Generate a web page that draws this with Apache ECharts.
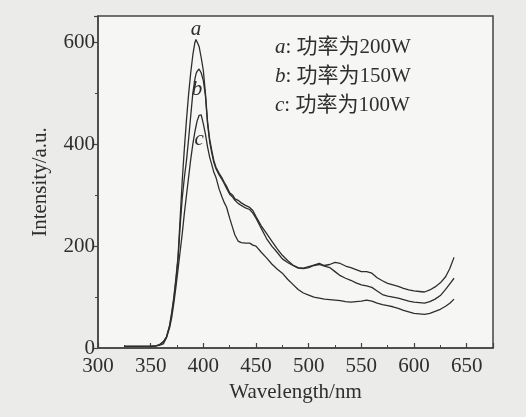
<!DOCTYPE html>
<html>
<head>
<meta charset="utf-8">
<script src="https://cdn.jsdelivr.net/npm/echarts@6/dist/echarts.min.js"></script>
<style>
  html, body { margin: 0; padding: 0; background: #ebebe9; }
  #chart { width: 526px; height: 417px; }
</style>
</head>
<body>
<div id="chart"></div>
<script>
// 波长 (nm)
var wavelength = [325, 330, 340, 350, 355, 358, 362, 365, 368, 370, 372, 374, 376, 378, 380, 382, 384, 386, 388, 390,
  392, 393, 394, 396, 398, 400, 402, 404, 406, 408, 410, 412, 415, 418, 420, 422, 425, 428, 430, 433,
  436, 440, 444, 447, 450, 455, 460, 465, 470, 475, 480, 485, 490, 495, 500, 505, 510, 515, 520, 525,
  530, 535, 540, 545, 550, 555, 560, 565, 570, 575, 580, 585, 590, 595, 600, 605, 610, 615, 620, 625,
  630, 634, 638];
// a: 200W
var seriesA = [3, 3, 3, 3, 4, 6, 12, 22, 45, 70, 100, 138, 180, 255, 330, 392, 448, 498, 540, 575,
  600, 606, 603, 592, 570, 545, 500, 445, 410, 388, 368, 355, 343, 333, 325, 318, 305, 300, 293, 290,
  285, 280, 276, 270, 258, 240, 225, 210, 195, 182, 172, 163, 158, 157, 160, 163, 166, 162, 164, 168,
  166, 161, 158, 154, 150, 150, 147, 138, 132, 127, 124, 121, 117, 114, 112, 111, 110, 114, 120, 128,
  140, 156, 178];
// b: 150W
var seriesB = [3, 3, 3, 3, 4, 6, 12, 21, 43, 67, 96, 132, 175, 240, 295, 335, 368, 410, 455, 500,
  528, 538, 543, 548, 540, 525, 495, 440, 405, 383, 364, 352, 340, 330, 322, 314, 302, 296, 290, 284,
  280, 275, 272, 265, 255, 235, 215, 200, 188, 175, 168, 162, 157, 156, 158, 162, 164, 161, 158, 150,
  142, 137, 133, 128, 124, 122, 119, 112, 105, 102, 100, 98, 95, 92, 90, 89, 88, 91, 96, 103,
  115, 126, 137];
// c: 100W
var seriesC = [3, 3, 3, 3, 4, 5, 8, 20, 40, 60, 88, 120, 155, 190, 225, 265, 300, 335, 370, 400,
  425, 435, 445, 457, 458, 440, 420, 395, 375, 360, 345, 335, 312, 295, 285, 277, 255, 235, 222, 210,
  207, 206, 206, 202, 200, 188, 177, 165, 155, 147, 135, 125, 115, 108, 104, 100, 98, 96, 95, 94,
  93, 91, 90, 91, 92, 94, 92, 88, 85, 83, 81, 78, 74, 71, 68, 67, 66, 68, 72, 76,
  82, 88, 96];
var names = ['a', 'b', 'c'];
var legendText = ['功率为200W', '功率为150W', '功率为100W'];
// 曲线标注位置 (数据坐标)
var tagPos = [[393, 625], [394, 507], [396, 409]];

var font = 'Liberation Serif, Noto Sans CJK SC, serif';
var ink = '#2e2e2e';

function pairs(ys) {
  return wavelength.map(function (x, i) { return [x, ys[i]]; });
}

var chart = echarts.init(document.getElementById('chart'));
var allData = [seriesA, seriesB, seriesC];
var series = allData.map(function (ys, i) {
  return {
    name: names[i],
    type: 'line',
    data: pairs(ys),
    showSymbol: false,
    silent: true,
    lineStyle: { color: ink, width: 1.3 },
    markPoint: {
      symbol: 'rect',
      symbolSize: 1,
      silent: true,
      itemStyle: { color: 'rgba(0,0,0,0)' },
      data: [{ coord: tagPos[i] }],
      label: {
        show: true,
        position: 'inside',
        formatter: names[i],
        fontFamily: font,
        fontStyle: 'italic',
        fontSize: 21,
        color: ink
      }
    }
  };
});

var option = {
  animation: false,
  backgroundColor: '#ebebe9',
  grid: {
    left: 98, right: 33, top: 16, bottom: 69,
    show: true,
    backgroundColor: '#f6f6f4',
    borderColor: '#444',
    borderWidth: 1.5
  },
  xAxis: {
    type: 'value',
    min: 300,
    max: 675,
    interval: 50,
    name: 'Wavelength/nm',
    nameLocation: 'middle',
    nameGap: 32,
    nameTextStyle: { fontFamily: font, fontSize: 21, color: ink },
    axisLine: { show: true, lineStyle: { color: '#444', width: 1.5 } },
    axisTick: { show: true, inside: true, length: 5, lineStyle: { color: '#444', width: 1.2 } },
    minorTick: { show: true, splitNumber: 2, length: 3, lineStyle: { color: '#444', width: 1 } },
    splitLine: { show: false },
    axisLabel: {
      fontFamily: font, fontSize: 21, color: ink, margin: 8,
      formatter: function (v) { return (v % 50 === 0 && v <= 650) ? String(v) : ''; }
    }
  },
  yAxis: {
    type: 'value',
    min: 0,
    max: 652,
    interval: 200,
    name: 'Intensity/a.u.',
    nameLocation: 'middle',
    nameGap: 47,
    nameTextStyle: { fontFamily: font, fontSize: 21, color: ink },
    axisLine: { show: true, lineStyle: { color: '#444', width: 1.5 } },
    axisTick: { show: true, inside: false, length: 4, lineStyle: { color: '#444', width: 1.2 } },
    minorTick: { show: true, splitNumber: 2, length: 3, lineStyle: { color: '#444', width: 1 } },
    splitLine: { show: false },
    axisLabel: {
      fontFamily: font, fontSize: 21, color: ink, margin: 3,
      formatter: function (v) { return (v % 200 === 0) ? String(v) : ''; }
    }
  },
  graphic: legendText.map(function (t, i) {
    return {
      type: 'text',
      left: 275,
      top: 37 + i * 29,
      silent: true,
      style: {
        text: '{n|' + names[i] + '}{s|: ' + t + '}',
        rich: {
          n: { fontFamily: font, fontStyle: 'italic', fontSize: 21, fill: ink },
          s: { fontFamily: font, fontSize: 21, fill: ink }
        }
      }
    };
  }),
  series: series
};
chart.setOption(option);
</script>
</body>
</html>
